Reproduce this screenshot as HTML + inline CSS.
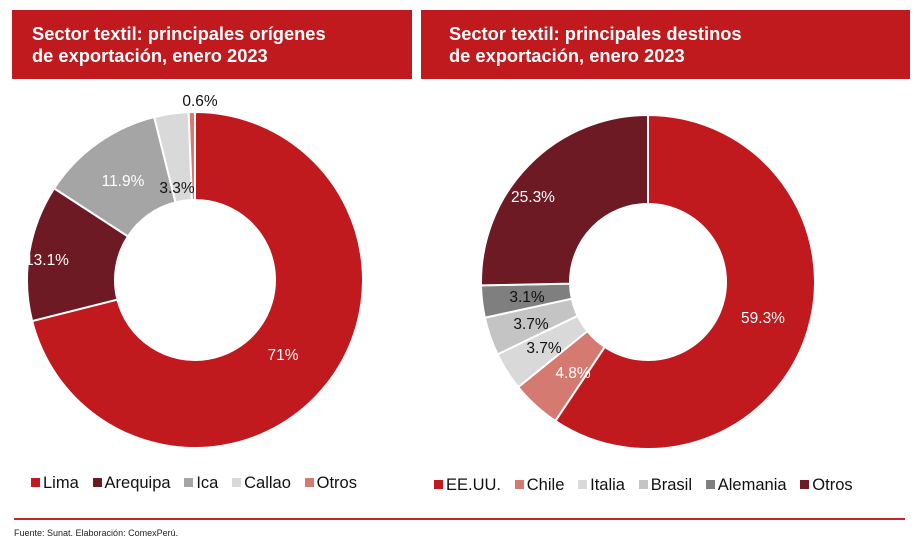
<!DOCTYPE html>
<html><head><meta charset="utf-8"><style>
body{margin:0;width:920px;height:547px;background:#fff;font-family:"Liberation Sans",sans-serif;position:relative;overflow:hidden}
.hdr{position:absolute;top:10px;height:69px;background:#C0191E;color:#fff;font-weight:bold;font-size:18.3px;line-height:22px;box-sizing:border-box;padding:13px 0 0 20px}
svg{position:absolute;left:0;top:0}
.leg{position:absolute;font-size:16.5px;color:#111;white-space:nowrap}
.leg span{display:inline-block;width:9px;height:9px;margin-right:3px;vertical-align:1px}
</style></head><body>
<div class="hdr" style="left:12px;width:400px">Sector textil: principales orígenes<br>de exportación, enero 2023</div>
<div class="hdr" style="left:421px;width:489px;padding-left:28px">Sector textil: principales destinos<br>de exportación, enero 2023</div>
<svg id="s" width="920" height="547"></svg>
<div class="leg" style="left:31px;top:474px"><span style="background:#C0191E"></span>Lima&nbsp;&nbsp;&nbsp;<span style="background:#6E1A24"></span>Arequipa&nbsp;&nbsp;&nbsp;<span style="background:#A5A5A5"></span>Ica&nbsp;&nbsp;&nbsp;<span style="background:#D9D9D9"></span>Callao&nbsp;&nbsp;&nbsp;<span style="background:#D47A70"></span>Otros</div>
<div class="leg" style="left:434px;top:476px"><span style="background:#C0191E"></span>EE.UU.&nbsp;&nbsp;&nbsp;<span style="background:#D47A70"></span>Chile&nbsp;&nbsp;&nbsp;<span style="background:#D9D9D9"></span>Italia&nbsp;&nbsp;&nbsp;<span style="background:#C4C4C4"></span>Brasil&nbsp;&nbsp;&nbsp;<span style="background:#7F7F7F"></span>Alemania&nbsp;&nbsp;&nbsp;<span style="background:#6E1A24"></span>Otros</div>
<div style="position:absolute;left:14px;top:518px;width:891px;height:2px;background:#D0202E"></div>
<div style="position:absolute;left:14px;top:528px;font-size:9px;color:#222">Fuente: Sunat. Elaboración: ComexPerú.</div>
<script>
var s=document.getElementById('s'),h='';
function donut(cx,cy,R,r,vals,cols){var tot=vals.reduce((a,b)=>a+b,0),a=0;
vals.forEach(function(v,i){var a0=a/tot*2*Math.PI,a1=(a+v)/tot*2*Math.PI;a+=v;
function p(rr,t){return (cx+rr*Math.sin(t)).toFixed(2)+' '+(cy-rr*Math.cos(t)).toFixed(2)}
var lg=(a1-a0)>Math.PI?1:0;
h+='<path d="M'+p(R,a0)+' A'+R+' '+R+' 0 '+lg+' 1 '+p(R,a1)+' L'+p(r,a1)+' A'+r+' '+r+' 0 '+lg+' 0 '+p(r,a0)+' Z" fill="'+cols[i]+'" stroke="#fff" stroke-width="2"/>';});}
donut(195,280,168,80,[71,13.1,11.9,3.3,0.6],['#C0191E','#6E1A24','#A5A5A5','#D9D9D9','#D47A70']);
donut(648,282,167,78,[59.3,4.8,3.7,3.7,3.1,25.3],['#C0191E','#D47A70','#D9D9D9','#C4C4C4','#7F7F7F','#6E1A24']);
function t(x,y,txt,c){h+='<text x="'+x+'" y="'+y+'" fill="'+c+'" font-size="15.5" text-anchor="middle" font-family="Liberation Sans,sans-serif">'+txt+'</text>';}
t(200,106,'0.6%','#111');t(177,193,'3.3%','#111');t(123,186,'11.9%','#fff');t(47,265,'13.1%','#fff');t(283,360,'71%','#fff');
t(533,202,'25.3%','#fff');t(527,302,'3.1%','#111');t(531,329,'3.7%','#111');t(544,353,'3.7%','#111');t(573,378,'4.8%','#fff');t(763,323,'59.3%','#fff');
s.innerHTML=h;
</script>
</body></html>
